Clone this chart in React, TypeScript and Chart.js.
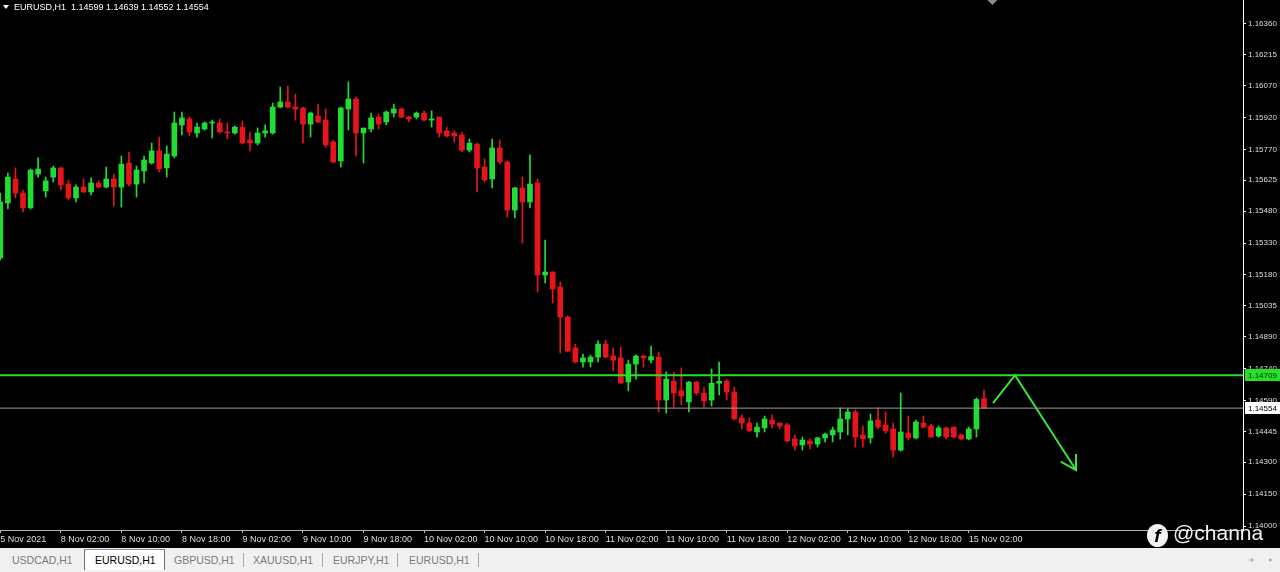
import React, { useEffect, useRef } from 'react';
import { Chart, registerables } from 'chart.js';
Chart.register(...registerables);

const SYMBOL = 'EURUSD,H1';

const opens = [
  1.15260, 1.15518, 1.15631, 1.15565, 1.15495, 1.15654, 1.15575, 1.15640, 1.15683, 1.15607,
  1.15542, 1.15593, 1.15570, 1.15612, 1.15593, 1.15631, 1.15593, 1.15706, 1.15607, 1.15669,
  1.15706, 1.15763, 1.15683, 1.15739, 1.15885, 1.15913, 1.15847, 1.15866, 1.15894, 1.15894,
  1.15852, 1.15847, 1.15875, 1.15814, 1.15800, 1.15847, 1.15847, 1.15969, 1.15993, 1.15969,
  1.15965, 1.15889, 1.15927, 1.15908, 1.15805, 1.15716, 1.15960, 1.16007, 1.15847, 1.15866,
  1.15922, 1.15899, 1.15941, 1.15960, 1.15922, 1.15922, 1.15941, 1.15908, 1.15922, 1.15857,
  1.15847, 1.15838, 1.15767, 1.15795, 1.15687, 1.15631, 1.15777, 1.15711, 1.15485, 1.15589,
  1.15523, 1.15612, 1.15180, 1.15194, 1.15123, 1.14982, 1.14837, 1.14771, 1.14771, 1.14794,
  1.14855, 1.14799, 1.14790, 1.14677, 1.14761, 1.14799, 1.14780, 1.14794, 1.14592, 1.14680,
  1.14635, 1.14583, 1.14676, 1.14625, 1.14592, 1.14671, 1.14680, 1.14630, 1.14508, 1.14484,
  1.14442, 1.14461, 1.14498, 1.14484, 1.14475, 1.14409, 1.14381, 1.14400, 1.14385, 1.14414,
  1.14428, 1.14442, 1.14503, 1.14536, 1.14428, 1.14414, 1.14498, 1.14475, 1.14456, 1.14357,
  1.14437, 1.14414, 1.14484, 1.14470, 1.14423, 1.14461, 1.14465, 1.14428, 1.14409, 1.14456,
  1.14599,
];
const highs = [
  1.15565, 1.15659, 1.15683, 1.15579, 1.15678, 1.15730, 1.15640, 1.15692, 1.15687, 1.15626,
  1.15603, 1.15631, 1.15636, 1.15622, 1.15687, 1.15654, 1.15739, 1.15758, 1.15692, 1.15739,
  1.15800, 1.15828, 1.15786, 1.15946, 1.15946, 1.15922, 1.15894, 1.15899, 1.15908, 1.15913,
  1.15894, 1.15880, 1.15904, 1.15852, 1.15871, 1.15885, 1.15988, 1.16063, 1.16068, 1.16030,
  1.15969, 1.15946, 1.15983, 1.15960, 1.15814, 1.15969, 1.16087, 1.16016, 1.15871, 1.15941,
  1.15936, 1.15951, 1.15983, 1.15965, 1.15927, 1.15946, 1.15951, 1.15951, 1.15922, 1.15875,
  1.15857, 1.15852, 1.15819, 1.15800, 1.15725, 1.15819, 1.15814, 1.15716, 1.15593, 1.15640,
  1.15744, 1.15631, 1.15344, 1.15194, 1.15147, 1.14987, 1.14855, 1.14808, 1.14804, 1.14870,
  1.14874, 1.14837, 1.14841, 1.14780, 1.14804, 1.14804, 1.14846, 1.14818, 1.14724, 1.14724,
  1.14743, 1.14680, 1.14680, 1.14653, 1.14738, 1.14771, 1.14690, 1.14653, 1.14522, 1.14508,
  1.14484, 1.14517, 1.14522, 1.14484, 1.14484, 1.14428, 1.14418, 1.14409, 1.14418, 1.14437,
  1.14465, 1.14555, 1.14550, 1.14545, 1.14470, 1.14526, 1.14555, 1.14536, 1.14484, 1.14625,
  1.14517, 1.14498, 1.14517, 1.14479, 1.14470, 1.14465, 1.14465, 1.14432, 1.14465, 1.14602,
  1.14639,
];
const lows = [
  1.15250, 1.15490, 1.15542, 1.15476, 1.15490, 1.15640, 1.15546, 1.15617, 1.15579, 1.15532,
  1.15523, 1.15567, 1.15556, 1.15589, 1.15589, 1.15504, 1.15499, 1.15598, 1.15546, 1.15612,
  1.15701, 1.15664, 1.15640, 1.15730, 1.15838, 1.15833, 1.15828, 1.15861, 1.15824, 1.15847,
  1.15819, 1.15842, 1.15795, 1.15763, 1.15791, 1.15828, 1.15842, 1.15965, 1.15965, 1.15908,
  1.15800, 1.15828, 1.15894, 1.15781, 1.15706, 1.15687, 1.15861, 1.15739, 1.15706, 1.15852,
  1.15866, 1.15885, 1.15922, 1.15919, 1.15899, 1.15913, 1.15904, 1.15875, 1.15828, 1.15828,
  1.15805, 1.15758, 1.15758, 1.15570, 1.15617, 1.15589, 1.15701, 1.15452, 1.15448, 1.15330,
  1.15495, 1.15100, 1.15142, 1.15048, 1.14813, 1.14818, 1.14766, 1.14747, 1.14747, 1.14771,
  1.14790, 1.14729, 1.14670, 1.14635, 1.14690, 1.14747, 1.14766, 1.14536, 1.14531, 1.14559,
  1.14569, 1.14536, 1.14616, 1.14559, 1.14564, 1.14616, 1.14592, 1.14498, 1.14456, 1.14442,
  1.14418, 1.14442, 1.14461, 1.14456, 1.14395, 1.14357, 1.14357, 1.14362, 1.14371, 1.14395,
  1.14395, 1.14409, 1.14428, 1.14371, 1.14371, 1.14390, 1.14456, 1.14437, 1.14324, 1.14352,
  1.14404, 1.14409, 1.14461, 1.14416, 1.14418, 1.14409, 1.14416, 1.14404, 1.14404, 1.14418,
  1.14552,
];
const closes = [
  1.15523, 1.15640, 1.15565, 1.15495, 1.15673, 1.15678, 1.15622, 1.15683, 1.15603, 1.15542,
  1.15593, 1.15570, 1.15612, 1.15593, 1.15631, 1.15593, 1.15701, 1.15607, 1.15673, 1.15720,
  1.15763, 1.15678, 1.15748, 1.15894, 1.15918, 1.15852, 1.15875, 1.15894, 1.15895, 1.15852,
  1.15847, 1.15875, 1.15800, 1.15800, 1.15847, 1.15857, 1.15969, 1.15993, 1.15969, 1.15960,
  1.15889, 1.15941, 1.15899, 1.15791, 1.15711, 1.15965, 1.16007, 1.15847, 1.15870, 1.15918,
  1.15889, 1.15946, 1.15960, 1.15922, 1.15913, 1.15941, 1.15908, 1.15913, 1.15847, 1.15833,
  1.15833, 1.15767, 1.15800, 1.15683, 1.15626, 1.15777, 1.15711, 1.15485, 1.15589, 1.15523,
  1.15607, 1.15180, 1.15194, 1.15114, 1.14982, 1.14822, 1.14771, 1.14790, 1.14794, 1.14855,
  1.14794, 1.14780, 1.14672, 1.14761, 1.14799, 1.14790, 1.14796, 1.14592, 1.14690, 1.14625,
  1.14611, 1.14676, 1.14625, 1.14588, 1.14671, 1.14680, 1.14630, 1.14503, 1.14484, 1.14447,
  1.14465, 1.14503, 1.14479, 1.14470, 1.14400, 1.14376, 1.14404, 1.14385, 1.14414, 1.14432,
  1.14451, 1.14503, 1.14536, 1.14418, 1.14409, 1.14494, 1.14465, 1.14447, 1.14357, 1.14442,
  1.14414, 1.14489, 1.14465, 1.14418, 1.14461, 1.14418, 1.14418, 1.14409, 1.14456, 1.14595,
  1.14554,
];

const tickBars = [0, 8, 16, 24, 32, 40, 48, 56, 64, 72, 80, 88, 96, 104, 112, 120, 128];
const tickLabels = [
  '5 Nov 2021', '8 Nov 02:00', '8 Nov 10:00', '8 Nov 18:00', '9 Nov 02:00', '9 Nov 10:00',
  '9 Nov 18:00', '10 Nov 02:00', '10 Nov 10:00', '10 Nov 18:00', '11 Nov 02:00', '11 Nov 10:00',
  '11 Nov 18:00', '12 Nov 02:00', '12 Nov 10:00', '12 Nov 18:00', '15 Nov 02:00',
];
const priceTicks = [
  1.14000, 1.14150, 1.14300, 1.14445, 1.14590, 1.14740, 1.14890, 1.15035, 1.15180,
  1.15330, 1.15480, 1.15625, 1.15770, 1.15920, 1.16070, 1.16215, 1.16360,
];

const levelPrice = 1.14709;
const lastPrice = 1.14554;
const arrowBars = [131.19, 134.1, 142.16];
const arrowPrices = [1.14578, 1.14709, 1.14263];
const arrowHeadBars = [140.14, 142.16, 142.16];
const arrowHeadPrices = [1.14302, 1.14263, 1.14338];

const tabs = ['USDCAD,H1', 'EURUSD,H1', 'GBPUSD,H1', 'XAUUSD,H1', 'EURJPY,H1', 'EURUSD,H1'];
const activeTab = 1;

const X_MIN = -0.04;
const X_MAX = 164.23;
const Y_MIN = 1.139812;
const Y_MAX = 1.164722;

const FONT = '"Liberation Sans", Arial, sans-serif';
const BULL = '#22dc34';
const BEAR = '#e6151b';
const LEVEL = '#27e027';

const decorPlugin = {
  id: 'mt4decor',
  beforeDraw(chart: any) {
    const { ctx, width, height } = chart;
    ctx.save();
    ctx.fillStyle = '#000000';
    ctx.fillRect(0, 0, width, height);
    ctx.restore();
  },
  afterDraw(chart: any) {
    const { ctx } = chart;
    const ys = chart.scales.y;
    const xs = chart.scales.x;
    const last = opens.length - 1;
    ctx.save();
    // title
    ctx.fillStyle = '#ffffff';
    ctx.beginPath();
    ctx.moveTo(3, 5);
    ctx.lineTo(9, 5);
    ctx.lineTo(6, 9);
    ctx.closePath();
    ctx.fill();
    ctx.font = `9px ${FONT}`;
    ctx.textBaseline = 'middle';
    ctx.textAlign = 'left';
    const title = `${SYMBOL}  ${opens[last].toFixed(5)} ${highs[last].toFixed(5)} ${lows[last].toFixed(5)} ${closes[last].toFixed(5)}`;
    ctx.fillText(title, 14, 7.5);

    // shift marker
    const sx = xs.getPixelForValue(131.1);
    ctx.fillStyle = '#8a8a8a';
    ctx.beginPath();
    ctx.moveTo(sx - 5, 0);
    ctx.lineTo(sx + 5, 0);
    ctx.lineTo(sx, 5);
    ctx.closePath();
    ctx.fill();

    // price boxes
    const box = (p: number, bg: string, fg: string) => {
      const py = Math.round(ys.getPixelForValue(p));
      ctx.fillStyle = bg;
      ctx.fillRect(ys.left + 2, py - 6, 40, 12);
      ctx.fillStyle = fg;
      ctx.font = `8px ${FONT}`;
      ctx.textBaseline = 'middle';
      ctx.fillText(p.toFixed(5), ys.left + 5, py + 0.5);
    };
    box(levelPrice, LEVEL, '#0a2a0a');
    box(lastPrice, '#ffffff', '#000000');
    ctx.restore();
  },
};

export default function App() {
  const ref = useRef<HTMLCanvasElement>(null);

  useEffect(() => {
    const canvas = ref.current;
    if (!canvas) return;
    const colors = opens.map((o, i) => (closes[i] >= o ? BULL : BEAR));
    const wickData = opens.map((_, i) => ({ x: i, y: [lows[i], highs[i]] }));
    const bodyData = opens.map((o, i) => ({ x: i, y: [o, closes[i]] }));

    const chart = new Chart(canvas, {
      type: 'bar',
      data: {
        datasets: [
          {
            type: 'line',
            label: 'level',
            data: [{ x: X_MIN, y: levelPrice }, { x: X_MAX, y: levelPrice }],
            borderColor: LEVEL,
            borderWidth: 2,
            pointRadius: 0,
            tension: 0,
            order: -3,
          } as any,
          {
            type: 'line',
            label: 'last',
            data: [{ x: X_MIN, y: lastPrice }, { x: X_MAX, y: lastPrice }],
            borderColor: '#9c9c9c',
            borderWidth: 1,
            pointRadius: 0,
            tension: 0,
            order: -2,
          } as any,
          {
            type: 'line',
            label: 'arrow',
            data: arrowBars.map((b, i) => ({ x: b, y: arrowPrices[i] })),
            borderColor: '#3ae43a',
            borderWidth: 2,
            pointRadius: 0,
            tension: 0,
            order: -1,
          } as any,
          {
            type: 'line',
            label: 'arrowHead',
            data: arrowHeadBars.map((b, i) => ({ x: b, y: arrowHeadPrices[i] })),
            borderColor: '#3ae43a',
            borderWidth: 2,
            pointRadius: 0,
            tension: 0,
            order: -1,
          } as any,
          {
            label: 'body',
            data: bodyData as any,
            backgroundColor: colors,
            borderWidth: 0,
            barThickness: 5,
            grouped: false,
            minBarLength: 1,
            order: 0,
          } as any,
          {
            label: 'wick',
            data: wickData as any,
            backgroundColor: colors,
            borderWidth: 0,
            barThickness: 1,
            grouped: false,
            order: 1,
          } as any,
        ],
      },
      options: {
        responsive: false,
        animation: false,
        devicePixelRatio: 1,
        layout: { padding: 0 },
        plugins: { legend: { display: false }, tooltip: { enabled: false } },
        scales: {
          x: {
            type: 'linear',
            min: X_MIN,
            max: X_MAX,
            offset: false,
            grid: { display: true, drawOnChartArea: false, drawTicks: true, tickLength: 3, color: '#b4b4b4', offset: false },
            border: { display: true, color: '#b4b4b4' },
            afterBuildTicks: (s: any) => {
              s.ticks = tickBars.map((v) => ({ value: v }));
            },
            afterFit: (s: any) => {
              s.height = 18;
              s.paddingLeft = 0;
              s.paddingRight = 0;
            },
            ticks: {
              autoSkip: false,
              maxRotation: 0,
              minRotation: 0,
              align: 'start',
              padding: 1,
              color: '#dedede',
              font: { family: FONT, size: 9 },
              callback: (_v: any, i: number) => tickLabels[i] ?? '',
            },
          },
          y: {
            type: 'linear',
            position: 'right',
            min: Y_MIN,
            max: Y_MAX,
            beginAtZero: false,
            grid: { display: true, drawOnChartArea: false, drawTicks: true, tickLength: 3, color: '#ffffff' },
            border: { display: true, color: '#ffffff' },
            afterBuildTicks: (s: any) => {
              s.ticks = priceTicks.map((v) => ({ value: v }));
            },
            afterFit: (s: any) => {
              s.width = 37;
              s.paddingTop = 0;
              s.paddingBottom = 0;
            },
            ticks: {
              autoSkip: false,
              padding: 2,
              color: '#dedede',
              font: { family: FONT, size: 8 },
              callback: (v: any) => Number(v).toFixed(5),
            },
          },
        },
      } as any,
      plugins: [decorPlugin],
    } as any);
    return () => chart.destroy();
  }, []);

  const tabLeft = [12, 95, 174, 253, 333, 409];
  const sepLeft = [243, 322, 397, 478];

  return (
    <div style={{ position: 'fixed', left: 0, top: 0, width: 1280, height: 572, background: '#f0f0f0', overflow: 'hidden' }}>
      <canvas ref={ref} width={1280} height={548} style={{ display: 'block', width: 1280, height: 548 }} />
      <div style={{ position: 'absolute', left: 0, top: 548, width: 1280, height: 24, background: '#f0f0f0', fontFamily: FONT, fontSize: 10.5 }}>
        <div style={{ position: 'absolute', left: 84, top: 1, width: 79, height: 20, background: '#ffffff', borderTop: '1px solid #8a8a8a', borderLeft: '1px solid #6a6a6a', borderRight: '1px solid #6a6a6a' }} />
        {tabs.map((t, i) => (
          <div key={i} style={{ position: 'absolute', left: tabLeft[i], top: 5, lineHeight: '14px', color: i === activeTab ? '#000000' : '#7a7a7a', whiteSpace: 'nowrap' }}>{t}</div>
        ))}
        {sepLeft.map((l, i) => (
          <div key={'s' + i} style={{ position: 'absolute', left: l, top: 5, width: 1, height: 14, background: '#a8a8a8' }} />
        ))}
        <div style={{ position: 'absolute', left: 1249, top: 5, lineHeight: '14px', fontSize: 8, color: '#b0b0b0' }}>◂</div>
        <div style={{ position: 'absolute', left: 1269, top: 5, lineHeight: '14px', fontSize: 8, color: '#b0b0b0' }}>▸</div>
      </div>
      <div style={{ position: 'absolute', left: 1147, top: 524, width: 21, height: 23, borderRadius: '50%', background: '#f2f2f2', color: '#000', fontFamily: FONT, fontWeight: 700, fontStyle: 'italic', fontSize: 19, lineHeight: '23px', textAlign: 'center' }}>f</div>
      <div style={{ position: 'absolute', left: 1173, top: 520, fontFamily: FONT, fontSize: 21, lineHeight: '26px', color: '#f2f2f2', whiteSpace: 'nowrap' }}>@channa</div>
    </div>
  );
}
